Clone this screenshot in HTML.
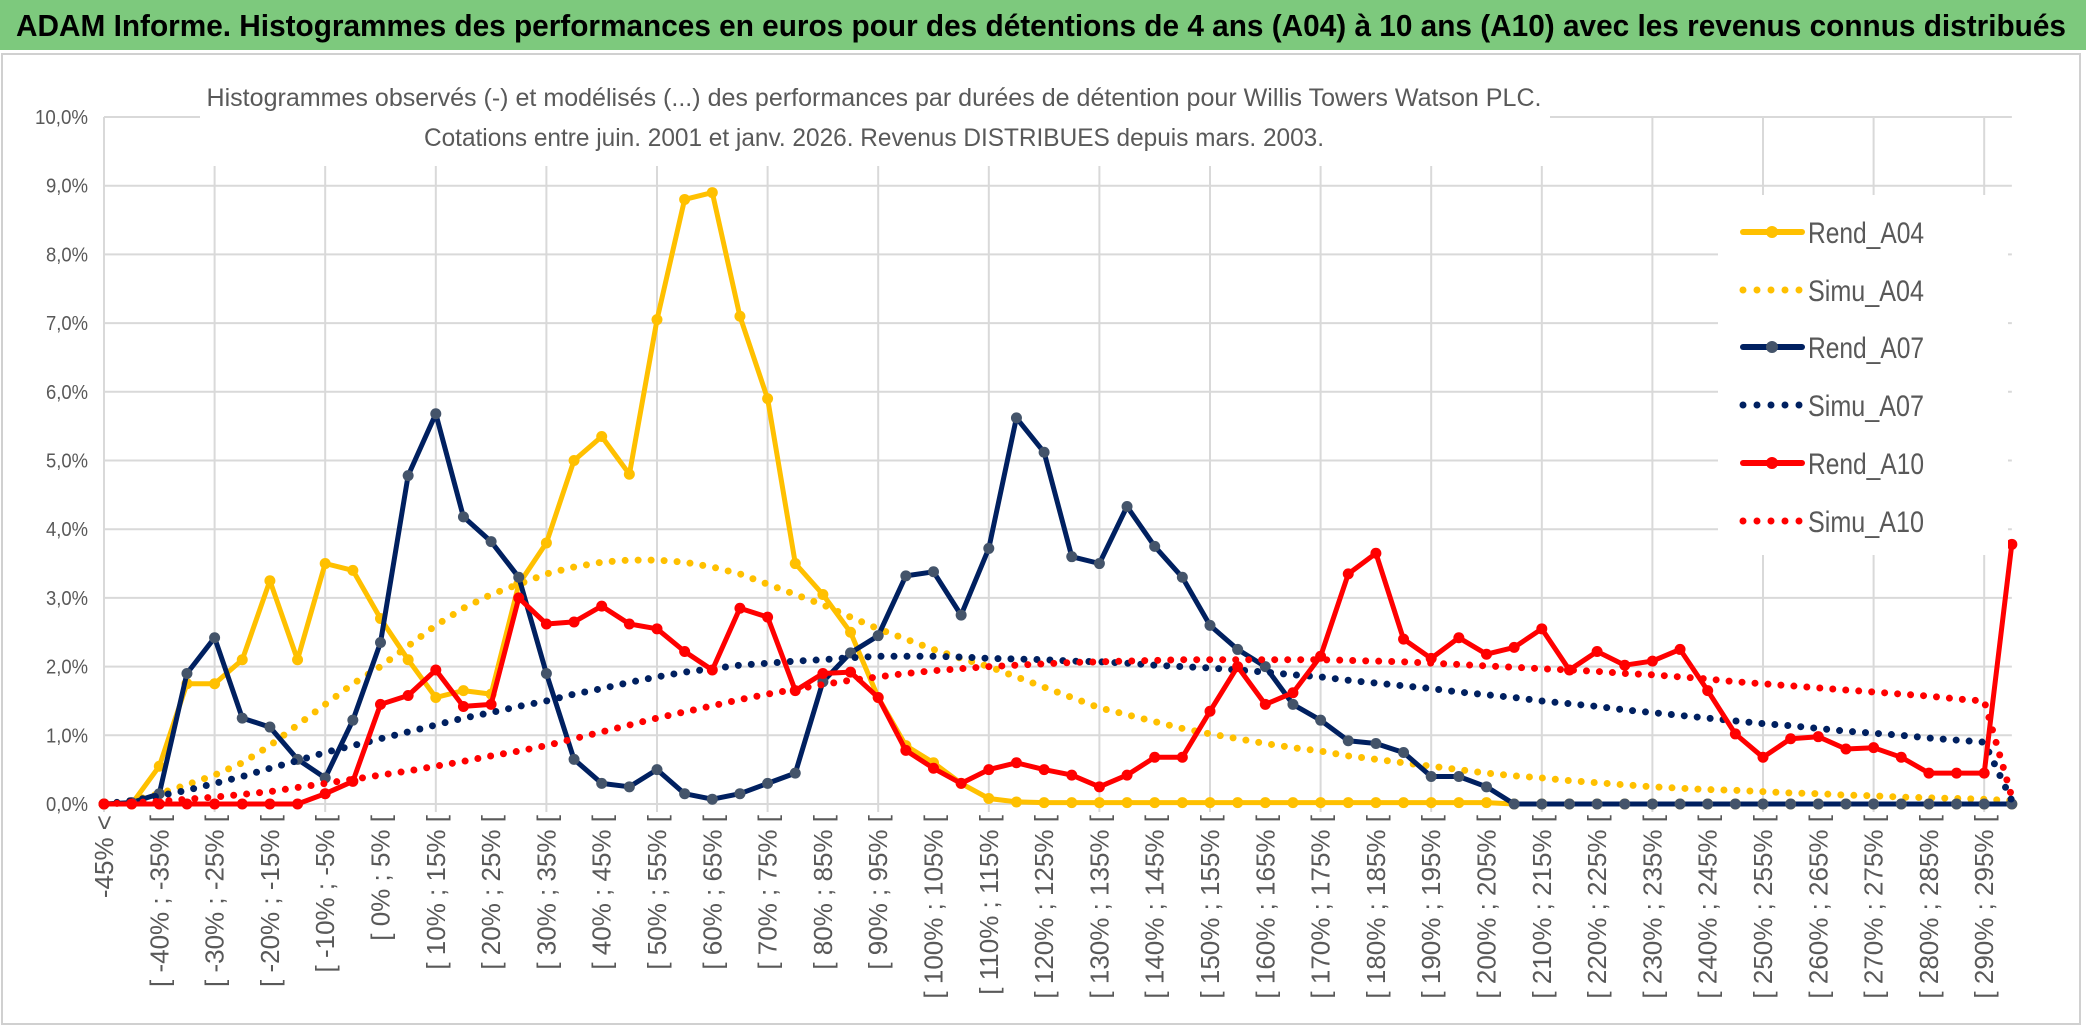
<!DOCTYPE html>
<html><head><meta charset="utf-8"><style>
html,body{margin:0;padding:0;background:#fff;}
svg{display:block;}
text{font-family:"Liberation Sans Narrow","Liberation Sans",sans-serif;}
</style></head><body>
<svg id="chart" width="2086" height="1031" viewBox="0 0 2086 1031" xmlns="http://www.w3.org/2000/svg">
<rect x="0" y="0" width="2086" height="1031" fill="#fff"/>
<rect x="0" y="0" width="2086" height="50" fill="#7dc97d"/>
<text x="16" y="36" font-size="31" font-weight="bold" fill="#000" textLength="2050" lengthAdjust="spacingAndGlyphs">ADAM Informe. Histogrammes des performances en euros pour des détentions de 4 ans (A04) à 10 ans (A10) avec les revenus connus distribués</text>
<rect x="2" y="54" width="2078" height="970" fill="none" stroke="#d0d0d0" stroke-width="2"/>
<g id="grid"></g>
<rect x="200" y="76" width="1350" height="90" fill="#fff"/>
<text x="874" y="106" font-size="25" fill="#595959" text-anchor="middle" textLength="1335" lengthAdjust="spacingAndGlyphs">Histogrammes observés (-) et modélisés (...) des performances par durées de détention pour Willis Towers Watson PLC.</text>
<text x="874" y="146" font-size="25" fill="#595959" text-anchor="middle" textLength="900" lengthAdjust="spacingAndGlyphs">Cotations entre juin. 2001 et janv. 2026. Revenus DISTRIBUES depuis mars. 2003.</text>
<g id="series"></g>
<g id="legend"></g>
</svg>
<script>
const categories = ["-45% <"];
for (let k = -45; k <= 295; k += 5) categories.push("[ " + k + "% ; " + (k + 5) + "% [");
const yTicks = ["0,0%","1,0%","2,0%","3,0%","4,0%","5,0%","6,0%","7,0%","8,0%","9,0%","10,0%"];
const rendA04 = [0,0,0.55,1.75,1.75,2.1,3.25,2.1,3.5,3.4,2.7,2.1,1.55,1.65,1.6,3.2,3.8,5.0,5.35,4.8,7.05,8.8,8.9,7.1,5.9,3.5,3.05,2.5,1.55,0.85,0.6,0.3,0.08,0.03,0.02,0.02,0.02,0.02,0.02,0.02,0.02,0.02,0.02,0.02,0.02,0.02,0.02,0.02,0.02,0.02,0.02,0,0,0,0,0,0,0,0,0,0,0,0,0,0,0,0,0,0,0];
const simuA04 = [0,0.05,0.15,0.28,0.42,0.6,0.85,1.15,1.45,1.75,2.0,2.3,2.6,2.85,3.05,3.2,3.35,3.45,3.52,3.55,3.55,3.52,3.45,3.35,3.2,3.05,2.9,2.72,2.55,2.4,2.25,2.12,2.0,1.85,1.7,1.55,1.4,1.3,1.2,1.1,1.02,0.95,0.88,0.82,0.77,0.7,0.65,0.6,0.55,0.5,0.45,0.41,0.38,0.34,0.31,0.28,0.25,0.23,0.21,0.2,0.18,0.16,0.15,0.13,0.12,0.1,0.09,0.08,0.07,0.05];
const rendA07 = [0,0.02,0.15,1.9,2.42,1.25,1.12,0.65,0.38,1.22,2.35,4.78,5.68,4.18,3.82,3.3,1.9,0.65,0.3,0.25,0.5,0.15,0.07,0.15,0.3,0.45,1.78,2.2,2.45,3.32,3.38,2.75,3.72,5.62,5.12,3.6,3.5,4.33,3.75,3.3,2.6,2.25,2.0,1.45,1.22,0.92,0.88,0.75,0.4,0.4,0.25,0,0,0,0,0,0,0,0,0,0,0,0,0,0,0,0,0,0,0];
const simuA07 = [0,0.05,0.12,0.2,0.3,0.4,0.52,0.63,0.75,0.85,0.95,1.05,1.15,1.25,1.33,1.42,1.5,1.6,1.68,1.77,1.85,1.92,1.97,2.02,2.05,2.08,2.1,2.13,2.15,2.15,2.15,2.14,2.12,2.11,2.1,2.08,2.07,2.05,2.02,2.0,1.98,1.95,1.92,1.88,1.85,1.8,1.76,1.72,1.68,1.63,1.59,1.55,1.5,1.46,1.42,1.37,1.33,1.29,1.25,1.21,1.17,1.14,1.1,1.06,1.03,1.0,0.96,0.93,0.9,0.05];
const rendA10 = [0,0,0,0,0,0,0,0,0.15,0.33,1.45,1.58,1.95,1.42,1.45,3.0,2.62,2.65,2.88,2.62,2.55,2.22,1.95,2.85,2.72,1.65,1.9,1.92,1.55,0.78,0.52,0.3,0.5,0.6,0.5,0.42,0.25,0.42,0.68,0.68,1.35,2.0,1.45,1.62,2.15,3.35,3.65,2.4,2.12,2.42,2.18,2.28,2.55,1.95,2.22,2.02,2.08,2.25,1.65,1.02,0.68,0.95,0.98,0.8,0.82,0.68,0.45,0.45,0.45,3.78];
const simuA10 = [0,0.02,0.04,0.07,0.1,0.14,0.18,0.24,0.3,0.36,0.42,0.48,0.55,0.62,0.7,0.77,0.85,0.95,1.05,1.15,1.25,1.34,1.43,1.52,1.6,1.67,1.74,1.8,1.85,1.9,1.94,1.97,2.0,2.02,2.04,2.06,2.07,2.08,2.09,2.1,2.1,2.1,2.1,2.1,2.1,2.09,2.08,2.07,2.05,2.03,2.01,1.99,1.97,1.95,1.93,1.9,1.88,1.85,1.82,1.78,1.75,1.72,1.69,1.66,1.63,1.6,1.57,1.53,1.5,0.1];
const seriesNames = ["Rend_A04","Simu_A04","Rend_A07","Simu_A07","Rend_A10","Simu_A10"];

const NS = "http://www.w3.org/2000/svg";
const X0 = 104, STEP = 27.65, Y0 = 804, YPER = 68.7;
function xPos(i){ return X0 + i * STEP; }
function yPos(v){ return Y0 - v * YPER; }
function mk(tag, attrs, parent){ const e = document.createElementNS(NS, tag); for (const k in attrs) e.setAttribute(k, attrs[k]); parent.appendChild(e); return e; }

const grid = document.getElementById("grid");
const xEnd = xPos(categories.length - 1);
yTicks.forEach((t, k) => {
  const y = yPos(k);
  const l = mk("line", {x1: X0, x2: xEnd, y1: y, y2: y, stroke: "#d9d9d9", "stroke-width": 2}, grid);
  
  
  const tx = mk("text", {x: 88, y: y + 7, "font-size": 20, fill: "#595959", "text-anchor": "end", textLength: 11 * t.length - 2, lengthAdjust: "spacingAndGlyphs"}, grid);
  tx.textContent = t;
  
  
});
for (let i = 0; i < categories.length; i += 4) {
  const l = mk("line", {x1: xPos(i), x2: xPos(i), y1: yPos(10), y2: Y0 + 8, stroke: "#d9d9d9", "stroke-width": 2}, grid);
  
  
}
categories.forEach((c, i) => {
  if (i % 2) return;
  const x = xPos(i), y = 815;
  const tx = mk("text", {x: 0, y: 0, "font-size": 26, fill: "#595959", "text-anchor": "end", transform: "translate(" + (x + 9) + "," + y + ") rotate(-90)", style: "font-family:'Liberation Sans',sans-serif"}, grid);
  tx.textContent = c;
  
  
});

const sg = document.getElementById("series");
function pts(arr){ return arr.map((v, i) => xPos(i).toFixed(1) + "," + yPos(v).toFixed(1)).join(" "); }
function solid(arr, color, mfill, name){
  const g = mk("g", {}, sg);
  
  
  const p = mk("polyline", {points: pts(arr), fill: "none", stroke: color, "stroke-width": 5, "stroke-linejoin": "round"}, g);
  
  
  arr.forEach((v, i) => {
    const c = mk("circle", {cx: xPos(i), cy: yPos(v), r: 5.5, fill: mfill}, g);
    
    
  });
}
function dotted(arr, color, name){
  const p = mk("polyline", {points: pts(arr), fill: "none", stroke: color, "stroke-width": 7, "stroke-linecap": "round", "stroke-dasharray": "0 13"}, sg);
  
  
}
solid(rendA04, "#ffc000", "#ffc000", "rend-a04");
dotted(simuA04, "#ffc000", "simu-a04");
solid(rendA07, "#002060", "#44546a", "rend-a07");
dotted(simuA07, "#002060", "simu-a07");
solid(rendA10, "#ff0000", "#ff0000", "rend-a10");
dotted(simuA10, "#ff0000", "simu-a10");

const lg = document.getElementById("legend");
const bg = mk("rect", {x: 1718, y: 195, width: 290, height: 360, fill: "#fff"}, lg);


const lcol = ["#ffc000","#ffc000","#002060","#002060","#ff0000","#ff0000"];
const lmark = ["#ffc000",null,"#44546a",null,"#ff0000",null];
const ly = [232, 290, 347, 405, 463, 521];
seriesNames.forEach((n, k) => {
  const g = mk("g", {}, lg);
  
  
  if (lmark[k]) {
    mk("line", {x1: 1743, x2: 1802, y1: ly[k], y2: ly[k], stroke: lcol[k], "stroke-width": 6, "stroke-linecap": "round"}, g);
    mk("circle", {cx: 1772, cy: ly[k], r: 6, fill: lmark[k]}, g);
  } else {
    mk("line", {x1: 1743, x2: 1800, y1: ly[k], y2: ly[k], stroke: lcol[k], "stroke-width": 7, "stroke-linecap": "round", "stroke-dasharray": "0 14"}, g);
  }
  const t = mk("text", {x: 1808, y: ly[k] + 11, "font-size": 30, fill: "#595959", textLength: 116, lengthAdjust: "spacingAndGlyphs"}, g);
  t.textContent = n;
});
</script>
</body></html>
